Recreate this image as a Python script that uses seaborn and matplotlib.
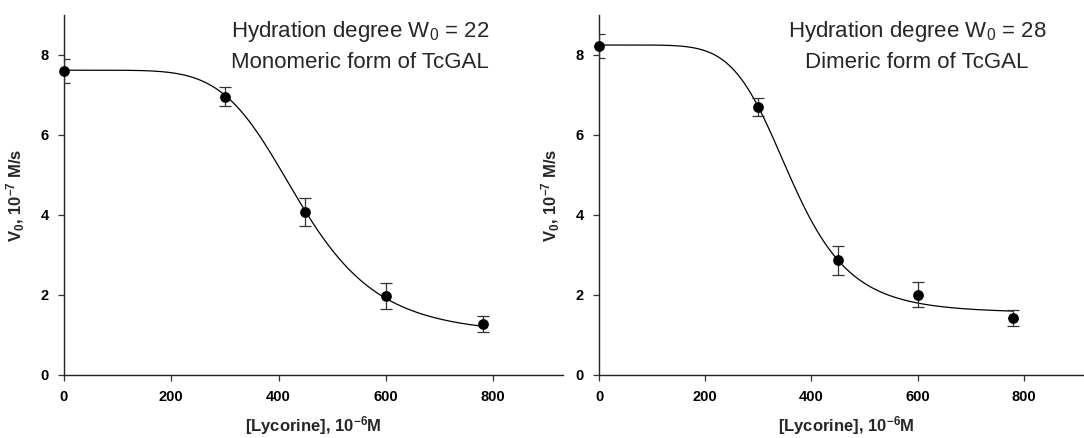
import numpy as np
import pandas as pd
import matplotlib
matplotlib.use("Agg")
import matplotlib.pyplot as plt
import seaborn as sns

# ---- data ----
conc = [0, 300, 450, 600, 780]                       # [Lycorine], 1e-6 M
v_w22 = [7.60, 6.96, 4.07, 1.97, 1.27]               # monomeric form
err_w22 = [0.30, 0.24, 0.35, 0.32, 0.20]
v_w28 = [8.23, 6.70, 2.87, 2.01, 1.43]               # dimeric form
err_w28 = [0.30, 0.23, 0.36, 0.32, 0.20]

# fitted sigmoid (Hill) parameters estimated from the drawn curves: y0, a, x0, n
fit_w22 = [1.00, 6.62, 440.0, 5.9]
fit_w28 = [1.55, 6.70, 361.6, 6.43]

titles_w22 = ["Hydration degree W$_0$ = 22", "Monomeric form of TcGAL"]
titles_w28 = ["Hydration degree W$_0$ = 28", "Dimeric form of TcGAL"]

xticks = [0, 200, 400, 600, 800]
yticks = [0, 2, 4, 6, 8]
xlabel = "[Lycorine], 10$^{-6}$M"
ylabel = "V$_0$, 10$^{-7}$ M/s"

sns.set_style("ticks")
plt.rcParams["font.family"] = ["Liberation Sans", "DejaVu Sans"]
plt.rcParams["mathtext.default"] = "regular"

fig = plt.figure(figsize=(10.84, 4.38), dpi=100)
H = 438.0
W = 1084.0
ax1 = fig.add_axes([64 / W, (438 - 375) / H, 499 / W, 360 / H])
ax2 = fig.add_axes([599 / W, (438 - 375) / H, 494 / W, 360 / H])


def hill(x, p):
    y0, a, x0, n = p
    return y0 + a / (1.0 + (x / x0) ** n)


def panel(ax, v, err, fit, titles, tx):
    xs = np.linspace(0, 780, 400)
    curve = pd.DataFrame({"x": xs, "y": hill(xs, fit)})
    sns.lineplot(data=curve, x="x", y="y", ax=ax, color="black", lw=0.9, zorder=2)
    ax.errorbar(conc, v, yerr=err, fmt="none", ecolor="#333333", elinewidth=0.9,
                capsize=4.5, capthick=0.9, zorder=3)
    pts = pd.DataFrame({"x": conc, "y": v})
    sns.scatterplot(data=pts, x="x", y="y", ax=ax, color="black", s=60,
                    edgecolor="black", linewidth=0, zorder=4, clip_on=False)
    ax.set_xlim(0, 930)
    ax.set_ylim(0, 9)
    ax.set_xticks(xticks)
    ax.set_yticks(yticks)
    ax.tick_params(axis="both", direction="out", length=4, width=0.9,
                   labelsize=10.5, color="#333333", pad=7, labelcolor="black")
    for lab in ax.get_xticklabels() + ax.get_yticklabels():
        lab.set_fontweight("bold")
    ax.set_xlabel(xlabel, fontsize=12, fontweight="bold", labelpad=7)
    ax.set_ylabel(ylabel, fontsize=12, fontweight="bold", labelpad=10)
    for s in ["top", "right"]:
        ax.spines[s].set_visible(False)
    for s in ["left", "bottom"]:
        ax.spines[s].set_linewidth(1.0)
        ax.spines[s].set_color("#222222")
    ax.text(tx, 0.953, titles[0], transform=ax.transAxes, ha="center",
            va="center", fontsize=16)
    ax.text(tx, 0.869, titles[1], transform=ax.transAxes, ha="center",
            va="center", fontsize=16)


panel(ax1, v_w22, err_w22, fit_w22, titles_w22, 0.593)
panel(ax2, v_w28, err_w28, fit_w28, titles_w28, 0.644)

fig.savefig("out.png", dpi=100)
